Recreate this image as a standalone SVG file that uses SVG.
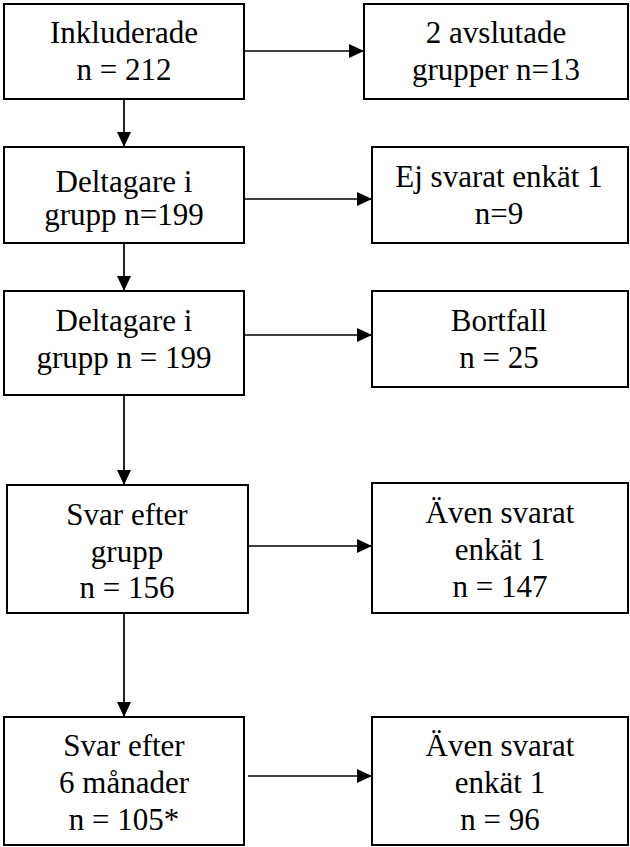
<svg xmlns="http://www.w3.org/2000/svg" width="630" height="847" viewBox="0 0 630 847">
<style>
rect.box{fill:#fff;stroke:#000;stroke-width:2}
text{font-family:"Liberation Serif","Times New Roman",serif;font-size:31px;fill:#000;text-anchor:middle}
.conn line{stroke:#000;stroke-width:1.7}
</style>
<defs>
<marker id="ah" markerWidth="15" markerHeight="14" refX="15" refY="7" orient="auto" markerUnits="userSpaceOnUse">
<path d="M0,0 L15,7 L0,14 Z" fill="#000"/>
</marker>
</defs>
<rect width="630" height="847" fill="#fff"/>
<g id="n1"><rect class="box" x="4" y="4" width="240" height="95"/><text x="124" y="43">Inkluderade</text><text x="124" y="80">n = 212</text></g>
<g id="n2"><rect class="box" x="364" y="4" width="264" height="95"/><text x="496" y="43">2 avslutade</text><text x="496" y="80">grupper n=13</text></g>
<g id="n3"><rect class="box" x="4" y="147" width="240" height="96"/><text x="124" y="192">Deltagare i</text><text x="124" y="225">grupp n=199</text></g>
<g id="n4"><rect class="box" x="372" y="147" width="256" height="96"/><text x="499" y="187">Ej svarat enkät 1</text><text x="499" y="224">n=9</text></g>
<g id="n5"><rect class="box" x="4" y="291" width="240" height="104"/><text x="124" y="331">Deltagare i</text><text x="124" y="368">grupp n = 199</text></g>
<g id="n6"><rect class="box" x="372" y="291" width="256" height="96"/><text x="499" y="331">Bortfall</text><text x="499" y="368">n = 25</text></g>
<g id="n7"><rect class="box" x="7" y="485" width="241" height="128"/><text x="127" y="525">Svar efter</text><text x="127" y="562">grupp</text><text x="127" y="598">n = 156</text></g>
<g id="n8"><rect class="box" x="372" y="483" width="256" height="130"/><text x="500" y="523">Även svarat</text><text x="500" y="560">enkät 1</text><text x="500" y="597">n = 147</text></g>
<g id="n9"><rect class="box" x="4" y="717" width="240" height="128"/><text x="124" y="756">Svar efter</text><text x="124" y="793">6 månader</text><text x="124" y="830">n = 105*</text></g>
<g id="n10"><rect class="box" x="372" y="717" width="256" height="128"/><text x="500" y="756">Även svarat</text><text x="500" y="793">enkät 1</text><text x="500" y="830">n = 96</text></g>
<g id="connectors" class="conn">
<line x1="244" y1="51" x2="364" y2="51" marker-end="url(#ah)"/>
<line x1="244" y1="199" x2="372" y2="199" marker-end="url(#ah)"/>
<line x1="244" y1="335" x2="372" y2="335" marker-end="url(#ah)"/>
<line x1="248" y1="546" x2="372" y2="546" marker-end="url(#ah)"/>
<line x1="248" y1="776" x2="372" y2="776" marker-end="url(#ah)"/>
<line x1="124" y1="99" x2="124" y2="147" marker-end="url(#ah)"/>
<line x1="124" y1="243" x2="124" y2="291" marker-end="url(#ah)"/>
<line x1="124" y1="395" x2="124" y2="485" marker-end="url(#ah)"/>
<line x1="124" y1="613" x2="124" y2="717" marker-end="url(#ah)"/>
</g>
</svg>
